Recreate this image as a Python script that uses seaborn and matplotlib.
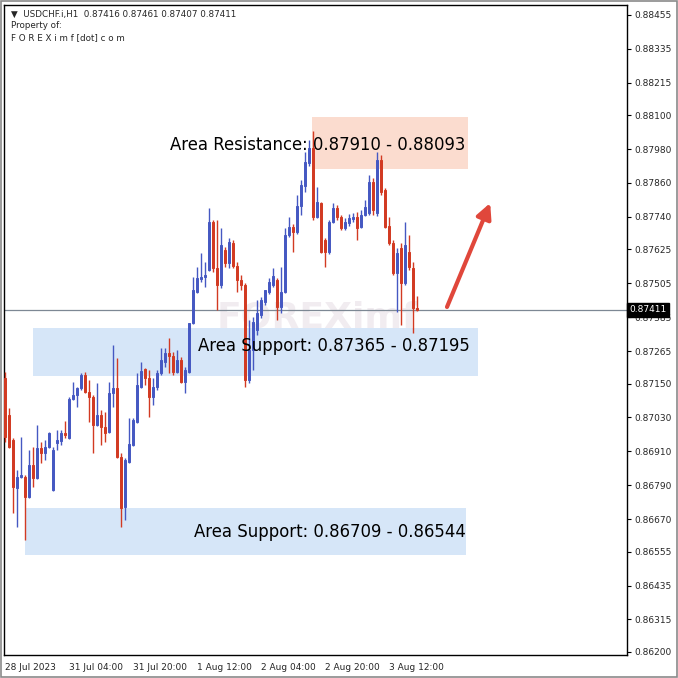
import pandas as pd
import seaborn as sns
import matplotlib.pyplot as plt
from matplotlib.patches import Rectangle
from matplotlib.transforms import blended_transform_factory

# USDCHF H1 candles, 28 Jul 2023 12:00 -> 3 Aug 2023 19:00
opens = [0.87170, 0.87039, 0.86950, 0.86780, 0.86819, 0.86819, 0.86749, 0.86862, 0.86816, 0.86922,
         0.86904, 0.86926, 0.86773, 0.86940, 0.86947, 0.86975, 0.86957, 0.87096, 0.87110, 0.87134,
         0.87181, 0.87120, 0.87103, 0.87004, 0.87039, 0.86996, 0.86979, 0.87117, 0.87134, 0.86890,
         0.86713, 0.86873, 0.86933, 0.87014, 0.87138, 0.87202, 0.87170, 0.87103, 0.87138, 0.87188,
         0.87227, 0.87258, 0.87248, 0.87191, 0.87234, 0.87156, 0.87191, 0.87365, 0.87474, 0.87520,
         0.87527, 0.87552, 0.87722, 0.87559, 0.87499, 0.87623, 0.87577, 0.87648, 0.87566, 0.87517,
         0.87499, 0.87163, 0.87269, 0.87340, 0.87393, 0.87439, 0.87474, 0.87499, 0.87517, 0.87421,
         0.87474, 0.87676, 0.87704, 0.87687, 0.87779, 0.87850, 0.87931, 0.87984, 0.87740, 0.87789,
         0.87658, 0.87616, 0.87722, 0.87772, 0.87740, 0.87701, 0.87719, 0.87733, 0.87740, 0.87704,
         0.87747, 0.87754, 0.87864, 0.87754, 0.87942, 0.87835, 0.87708, 0.87648, 0.87542, 0.87630,
         0.87506, 0.87616, 0.87559, 0.87416]
highs = [0.87191, 0.87064, 0.86957, 0.86844, 0.86961, 0.86827, 0.86915, 0.86926, 0.87004, 0.86943,
         0.86950, 0.86979, 0.86926, 0.86986, 0.86986, 0.87018, 0.87103, 0.87156, 0.87138, 0.87188,
         0.87191, 0.87163, 0.87110, 0.87152, 0.87057, 0.87050, 0.87156, 0.87287, 0.87241, 0.86904,
         0.86887, 0.87028, 0.87028, 0.87188, 0.87227, 0.87205, 0.87198, 0.87170, 0.87198, 0.87276,
         0.87276, 0.87312, 0.87262, 0.87269, 0.87244, 0.87209, 0.87251, 0.87527, 0.87563, 0.87612,
         0.87581, 0.87772, 0.87729, 0.87729, 0.87701, 0.87634, 0.87666, 0.87658, 0.87581, 0.87535,
         0.87506, 0.87375, 0.87386, 0.87446, 0.87457, 0.87481, 0.87524, 0.87559, 0.87524, 0.87563,
         0.87701, 0.87740, 0.87715, 0.87818, 0.87871, 0.87970, 0.88012, 0.88044, 0.87846, 0.87793,
         0.87666, 0.87729, 0.87789, 0.87782, 0.87747, 0.87736, 0.87750, 0.87754, 0.87758, 0.87765,
         0.87800, 0.87889, 0.87878, 0.87970, 0.87959, 0.87842, 0.87740, 0.87658, 0.87630, 0.87648,
         0.87722, 0.87676, 0.87581, 0.87461]
lows = [0.86943, 0.86922, 0.86692, 0.86642, 0.86816, 0.86596, 0.86745, 0.86784, 0.86812, 0.86869,
        0.86880, 0.86922, 0.86770, 0.86915, 0.86933, 0.86957, 0.86954, 0.87092, 0.87067, 0.87127,
        0.87117, 0.87014, 0.86904, 0.87000, 0.86933, 0.86943, 0.86975, 0.87067, 0.86887, 0.86642,
        0.86667, 0.86869, 0.86929, 0.87011, 0.87134, 0.87145, 0.87032, 0.87074, 0.87127, 0.87181,
        0.87209, 0.87188, 0.87181, 0.87188, 0.87152, 0.87117, 0.87188, 0.87361, 0.87471, 0.87510,
        0.87492, 0.87549, 0.87545, 0.87411, 0.87488, 0.87563, 0.87559, 0.87559, 0.87474, 0.87481,
        0.87138, 0.87152, 0.87198, 0.87322, 0.87382, 0.87428, 0.87467, 0.87492, 0.87375, 0.87400,
        0.87471, 0.87669, 0.87616, 0.87680, 0.87747, 0.87828, 0.87920, 0.87729, 0.87736, 0.87612,
        0.87563, 0.87609, 0.87719, 0.87729, 0.87694, 0.87694, 0.87708, 0.87722, 0.87658, 0.87701,
        0.87743, 0.87747, 0.87747, 0.87743, 0.87818, 0.87701, 0.87641, 0.87535, 0.87404, 0.87358,
        0.87499, 0.87552, 0.87329, 0.87407]
closes = [0.86961, 0.86926, 0.86784, 0.86819, 0.86827, 0.86749, 0.86862, 0.86816, 0.86922, 0.86904,
          0.86926, 0.86975, 0.86915, 0.86950, 0.86975, 0.86968, 0.87096, 0.87110, 0.87134, 0.87181,
          0.87120, 0.87103, 0.87004, 0.87039, 0.86996, 0.86975, 0.87117, 0.87134, 0.86890, 0.86710,
          0.86880, 0.86936, 0.87021, 0.87145, 0.87195, 0.87170, 0.87103, 0.87138, 0.87188, 0.87234,
          0.87258, 0.87248, 0.87191, 0.87234, 0.87156, 0.87198, 0.87365, 0.87481, 0.87524, 0.87527,
          0.87535, 0.87722, 0.87559, 0.87499, 0.87641, 0.87577, 0.87651, 0.87566, 0.87517, 0.87499,
          0.87163, 0.87269, 0.87368, 0.87400, 0.87446, 0.87481, 0.87510, 0.87531, 0.87421, 0.87474,
          0.87676, 0.87704, 0.87687, 0.87779, 0.87853, 0.87935, 0.87984, 0.87740, 0.87793, 0.87616,
          0.87616, 0.87722, 0.87772, 0.87740, 0.87701, 0.87722, 0.87736, 0.87740, 0.87701, 0.87747,
          0.87775, 0.87864, 0.87765, 0.87942, 0.87828, 0.87704, 0.87648, 0.87542, 0.87612, 0.87506,
          0.87641, 0.87563, 0.87416, 0.87411]

price_ticks = [0.88455, 0.88335, 0.88215, 0.88100, 0.87980, 0.87860, 0.87740, 0.87625, 0.87505, 0.87385,
               0.87265, 0.87150, 0.87030, 0.86910, 0.86790, 0.86670, 0.86555, 0.86435, 0.86315, 0.86200]
time_ticks = [0, 16, 32, 48, 64, 80, 96]
time_labels = ["28 Jul 2023", "31 Jul 04:00", "31 Jul 20:00", "1 Aug 12:00",
               "2 Aug 04:00", "2 Aug 20:00", "3 Aug 12:00"]

last_price = 0.87411
# zones: (x from, x to, price low, price high, label, colour)
zones = [
    (76.75, 115.75, 0.87910, 0.88093, "Area Resistance: 0.87910 - 0.88093", "#fbdccf"),
    (7.0, 118.25, 0.87178, 0.87347, "Area Support: 0.87365 - 0.87195", "#d6e6f8"),
    (5.0, 115.25, 0.86544, 0.86709, "Area Support: 0.86709 - 0.86544", "#d6e6f8"),
]
label_pos = [(115.0, 0.87995), (116.3, 0.87283), (115.3, 0.86625)]
arrow_from = (110.5, 0.87421)
arrow_to = (121.3, 0.87789)

df = pd.DataFrame({"open": opens, "high": highs, "low": lows, "close": closes})
df["idx"] = range(len(df))
df["up"] = df["close"] >= df["open"]

sns.set_style("white")
plt.rcParams["font.family"] = ["DejaVu Sans"]

blue = "#4558c2"
red = "#d23a22"

fig = plt.figure(figsize=(6.78, 6.78), dpi=100)
ax = fig.add_axes([4 / 678, 23 / 678, 623 / 678, 650 / 678])

for x0, x1, lo, hi, txt, col in zones:
    ax.add_patch(Rectangle((x0, lo), x1 - x0, hi - lo, facecolor=col, edgecolor="none", zorder=1))

ax.text(78, 0.87385, "FOREXimf", fontsize=26, fontweight="bold", color="#c8b4c6",
        alpha=0.25, ha="center", va="center", zorder=1.5)

ax.axhline(last_price, color="#7d8894", lw=0.9, zorder=2)

colors = [blue if u else red for u in df["up"]]
ax.vlines(df["idx"], df["low"], df["high"], colors=colors, lw=1.0, zorder=3)
body_bottom = df[["open", "close"]].min(axis=1)
body_h = (df["open"] - df["close"]).abs().clip(lower=0.00003)
ax.bar(df["idx"], body_h, bottom=body_bottom, width=0.62, color=colors,
       edgecolor=colors, linewidth=0.7, zorder=4)

for (x0, x1, lo, hi, txt, col), (tx, ty) in zip(zones, label_pos):
    ax.text(tx, ty, txt, fontsize=11.9, ha="right", va="center", color="black", zorder=6)

ax.annotate("", xy=arrow_to, xytext=arrow_from,
            arrowprops=dict(arrowstyle="-|>,head_length=0.9,head_width=0.45", color="#e0473b",
                            lw=3, shrinkA=0, shrinkB=0), zorder=6)

ax.set_xlim(-0.25, 155.5)
ax.set_ylim(0.86189, 0.88490)
ax.yaxis.tick_right()
ax.set_yticks(price_ticks)
ax.set_yticklabels([f"{p:.5f}" for p in price_ticks], fontsize=6.5)
ax.set_xticks(time_ticks)
ax.set_xticklabels(time_labels, fontsize=6.5, ha="left")
ax.tick_params(axis="both", direction="out", length=3, width=0.8, color="black", pad=2)
ax.tick_params(axis="x", pad=3)
for s in ax.spines.values():
    s.set_color("black")
    s.set_linewidth(1.0)

trans = blended_transform_factory(ax.transAxes, ax.transData)
ax.text(1.004, last_price, f"{last_price:.5f}", transform=trans, fontsize=6.5, color="white",
        ha="left", va="center", zorder=10, clip_on=False,
        bbox=dict(boxstyle="square,pad=0.25", facecolor="black", edgecolor="black"))

ax.text(0.012, 0.993, "\u25bc  USDCHF.i,H1  0.87416 0.87461 0.87407 0.87411", transform=ax.transAxes,
        fontsize=6.3, va="top", ha="left")
ax.text(0.012, 0.975, "Property of:", transform=ax.transAxes, fontsize=6.3, va="top", ha="left")
ax.text(0.012, 0.957, "F O R E X i m f [dot] c o m", transform=ax.transAxes, fontsize=6.3,
        va="top", ha="left")

fig.patches.append(Rectangle((0.001, 0.001), 0.997, 0.997, transform=fig.transFigure,
                             fill=False, edgecolor="#8a8a8a", lw=1.2))

fig.savefig("out.png", dpi=100)
